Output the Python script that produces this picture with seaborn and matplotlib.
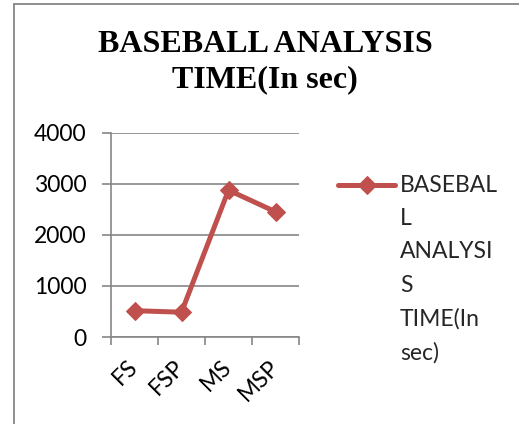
import matplotlib
matplotlib.use("Agg")
import matplotlib.pyplot as plt
import seaborn as sns
import pandas as pd
from matplotlib.lines import Line2D
from matplotlib.ticker import FixedLocator

categories = ["FS", "FSP", "MS", "MSP"]
values = [516, 486, 2880, 2455]
series_label = "BASEBALL ANALYSIS TIME(In sec)"
legend_label = "BASEBAL\nL\nANALYSI\nS\nTIME(In\nsec)"
title_text = "BASEBALL ANALYSIS\nTIME(In sec)"
yticks = [0, 1000, 2000, 3000, 4000]

df = pd.DataFrame({"cat": categories, "val": values})

sns.set_style("white")
plt.rcParams["font.family"] = ["Lato", "DejaVu Sans"]

W, H = 519, 424
fig = plt.figure(figsize=(W / 100, H / 100), dpi=100)
ax = fig.add_axes([111 / W, 1 - 337 / H, (299 - 111) / W, (337 - 133) / H])

red = "#C0504D"
grey = "#868686"

sns.lineplot(data=df, x="cat", y="val", ax=ax, color=red, linewidth=3.6,
             marker="D", markersize=9, markeredgecolor=red, markerfacecolor=red,
             sort=False, label=series_label)

ax.set_xlim(-0.5, 3.5)
ax.set_ylim(0, 4000)
ax.set_yticks(yticks)
ax.set_yticklabels([str(v) for v in yticks], fontsize=16.5, color="black")
ax.set_xticks(range(len(categories)))
ax.set_xticklabels(categories, fontsize=16.5, color="black", rotation=45,
                   ha="right", va="center", rotation_mode="anchor")
ax.xaxis.set_minor_locator(FixedLocator([-0.5, 0.5, 1.5, 2.5, 3.5]))
ax.tick_params(axis="x", which="major", length=0, pad=19)
ax.tick_params(axis="x", which="minor", length=6, width=1.2, color=grey, direction="out", bottom=True)
ax.tick_params(axis="y", length=6.5, width=1.2, color=grey, direction="out", pad=11, left=True)
ax.set_xlabel("")
ax.set_ylabel("")
ax.grid(axis="y", color=grey, linewidth=1.2)
ax.grid(axis="x", visible=False)
for s in ["top", "right"]:
    ax.spines[s].set_visible(False)
for s in ["left", "bottom"]:
    ax.spines[s].set_color(grey)
    ax.spines[s].set_linewidth(1.2)
ax.set_axisbelow(True)

handles, _ = ax.get_legend_handles_labels()
leg = ax.legend(handles, [legend_label], loc="upper left",
                bbox_to_anchor=(338 / W, 1 - 175 / H), bbox_transform=fig.transFigure,
                frameon=False, fontsize=16.5, handlelength=2.5, handleheight=1.25,
                handletextpad=0.2, borderpad=0, borderaxespad=0, labelspacing=0)
for t in leg.get_texts():
    t.set_linespacing(1.72)
for col in leg._legend_handle_box.get_children():
    for item in col.get_children():
        item.align = "top"

fig.text(265 / W, 1 - 62 / H, title_text, ha="center", va="center",
         fontfamily="Liberation Serif", fontweight="bold", fontsize=23,
         linespacing=1.3, color="black")

fig.add_artist(Line2D([14 / W, 14 / W], [0, 1 - 4 / H], transform=fig.transFigure,
                      color=grey, linewidth=1.3))
fig.add_artist(Line2D([14 / W, 1], [1 - 4 / H, 1 - 4 / H], transform=fig.transFigure,
                      color=grey, linewidth=1.3))

fig.savefig("out.png", dpi=100, facecolor="white")
